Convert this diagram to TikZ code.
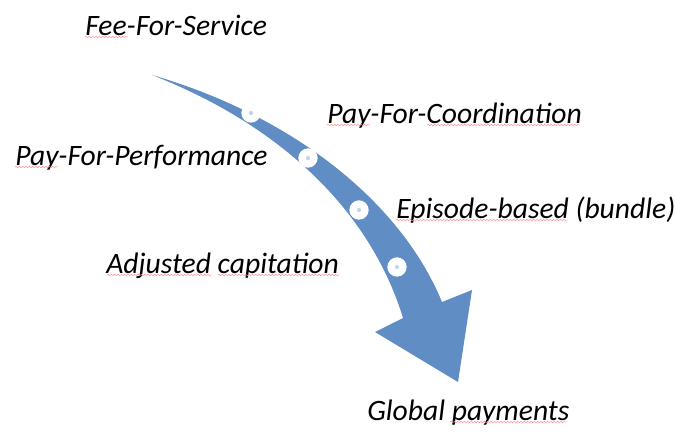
\documentclass[tikz,border=0pt]{standalone}
\usepackage{fontspec}
\setmainfont{Carlito}
\usepackage{xcolor}
\usetikzlibrary{positioning,calc,decorations.pathmorphing}
\definecolor{arrowblue}{RGB}{97,141,197}
\definecolor{dotgrey}{RGB}{200,212,232}

\begin{document}
\begin{tikzpicture}[x=0.75pt,y=-0.75pt,
    lbl/.style={anchor=base west, inner sep=0pt, font=\fontsize{22.2}{24}\selectfont\itshape},
    stop/.style={circle, fill=white, minimum size=14.5pt, inner sep=0pt},
    spell/.style={red!45, line width=0.35pt, decorate, decoration={snake, amplitude=0.5pt, segment length=2.5pt}}]
    \useasboundingbox (0,0) rectangle (675,433);

    % the curved arrow
    \fill[arrowblue] (152,75) .. controls (290,115) and (400,200) .. (442,302)
        -- (472,290) -- (458,382) -- (375,332) -- (403,318)
        .. controls (370,210) and (280,125) .. (152,75);

    % stops on the arrow
    \foreach \px/\py [count=\i] in {251/113, 308/158, 359/210, 397/267} {
        \node[stop] (s\i) at (\px,\py) {};
        \fill[dotgrey] (s\i) circle (1.6pt);
    }

    \node[lbl] (ffs) at (85,35) {Fee-For-Service};
    \node[lbl] (pfc) at (327,123) {Pay-For-Coordination};
    \node[lbl] (pfp) at (15,165) {Pay-For-Performance};
    \node[lbl] (epi) at (396,218) {Episode-based (bundle)};
    \node[lbl] (adj) at (106,273) {Adjusted capitation};
    \node[lbl] (glo) at (367,420) {Global payments};

    % spell-check marks
    \draw[spell] (85,37) -- (128,37);
    \draw[spell] (327,125) -- (370,125);
    \draw[spell] (427,125) -- (580,125);
    \draw[spell] (15,167) -- (58,167);
    \draw[spell] (396,220) -- (568,220);
    \draw[spell] (107,275) -- (212,275);
    \draw[spell] (218,275) -- (340,275);
    \draw[spell] (450,422) -- (567,422);
\end{tikzpicture}
\end{document}
